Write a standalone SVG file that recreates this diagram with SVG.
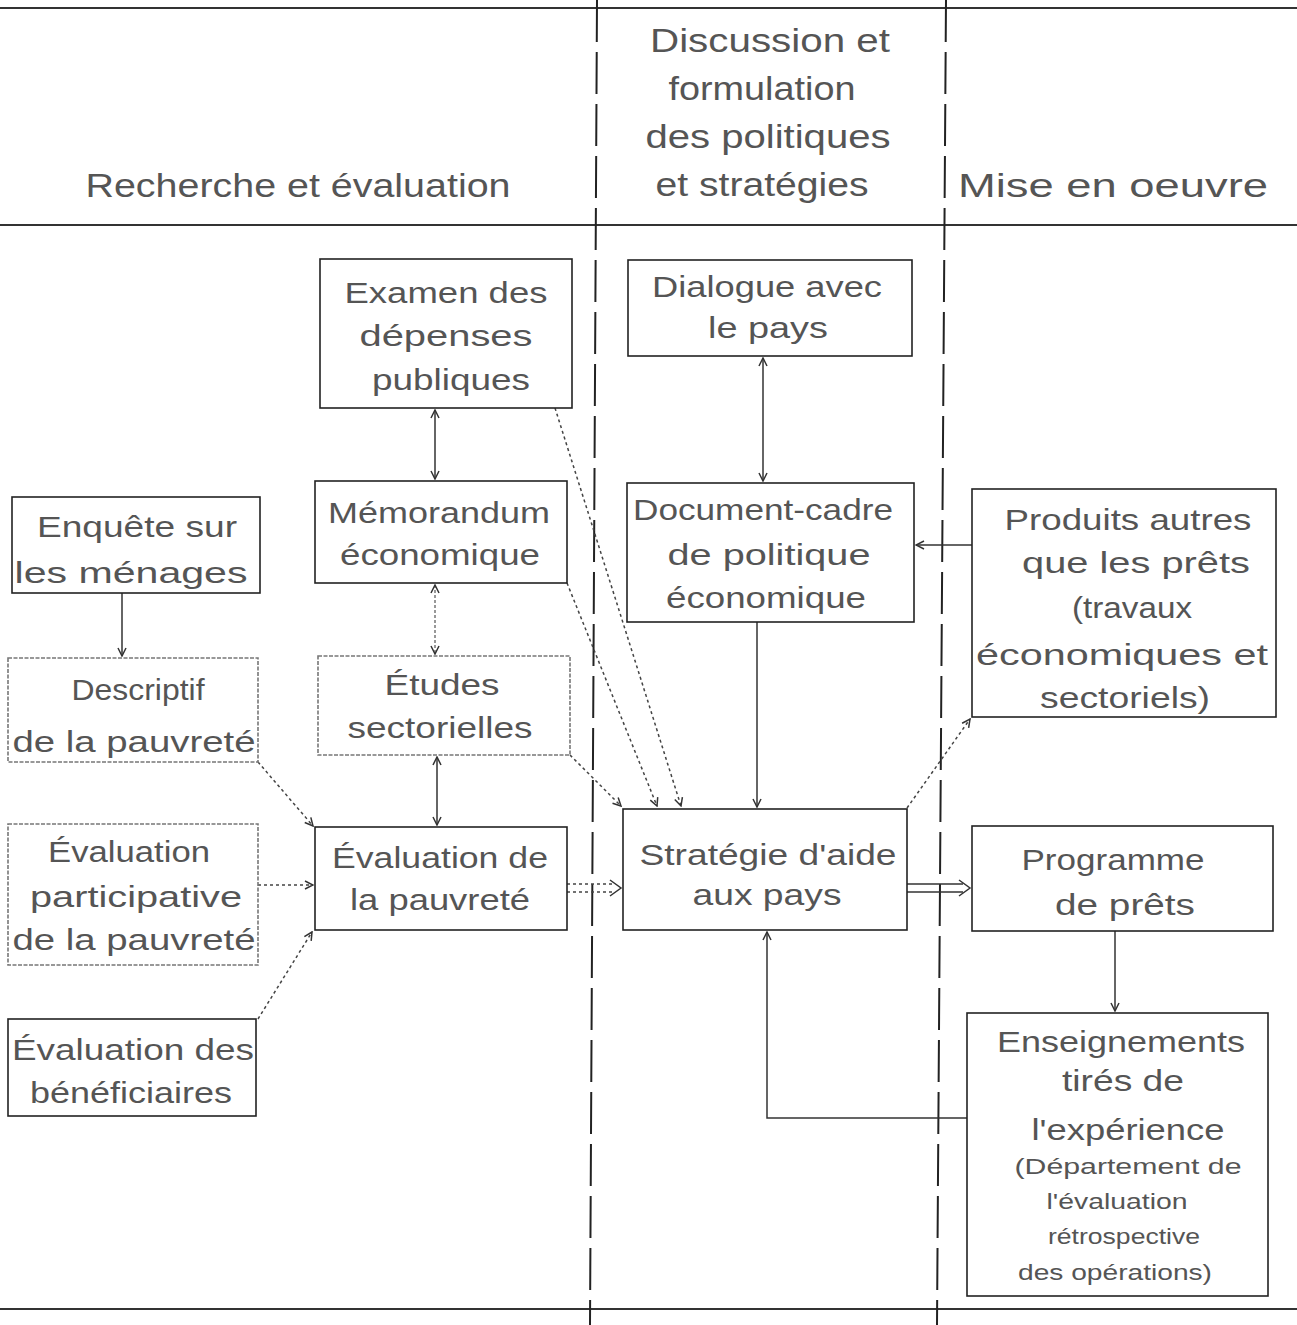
<svg xmlns="http://www.w3.org/2000/svg" width="1297" height="1325" viewBox="0 0 1297 1325">
<style>
.bg{fill:#ffffff}
.frame{stroke:#333;stroke-width:2;fill:none}
.col{stroke:#222;stroke-width:2;fill:none;stroke-dasharray:42 10}
.box{fill:#fff;stroke:#222;stroke-width:1.6}
.lbox{fill:#fff;stroke:#777;stroke-width:1.6;stroke-dasharray:4 1.5}
.t{font-family:"Liberation Sans",Arial,sans-serif;font-size:30px;fill:#555;text-anchor:middle}
.h{font-family:"Liberation Sans",Arial,sans-serif;font-size:34px;fill:#555;text-anchor:middle}
.s{font-family:"Liberation Sans",Arial,sans-serif;font-size:22px;fill:#555;text-anchor:middle}
.c{stroke:#333;stroke-width:1.5;fill:none}
.d{stroke:#444;stroke-width:1.5;fill:none;stroke-dasharray:3 3}
.g{stroke:#777;stroke-width:1.5;fill:none;stroke-dasharray:3 2}
</style>
<defs>
<marker id="ah" viewBox="0 0 10 10" refX="9" refY="5" markerWidth="10" markerHeight="10" markerUnits="userSpaceOnUse" orient="auto-start-reverse">
<path d="M1,1 L9,5 L1,9" fill="none" stroke="#333" stroke-width="1.5"/>
</marker>
</defs>
<rect class="bg" x="0" y="0" width="1297" height="1325"/>

<g id="frame">
<line class="frame" x1="0" y1="8" x2="1297" y2="8"/>
<line class="frame" x1="0" y1="225" x2="1297" y2="225"/>
<line class="frame" x1="0" y1="1309" x2="1297" y2="1309" stroke-width="3"/>
<line class="col" x1="597" y1="0" x2="590" y2="1325"/>
<line class="col" x1="946" y1="0" x2="937" y2="1325"/>
</g>

<g id="headers">
<text class="h" x="298" y="197" textLength="425" lengthAdjust="spacingAndGlyphs">Recherche et évaluation</text>
<text class="h" x="770" y="52" textLength="240" lengthAdjust="spacingAndGlyphs">Discussion et</text>
<text class="h" x="762" y="100" textLength="187" lengthAdjust="spacingAndGlyphs">formulation</text>
<text class="h" x="768" y="148" textLength="245" lengthAdjust="spacingAndGlyphs">des politiques</text>
<text class="h" x="762" y="196" textLength="213" lengthAdjust="spacingAndGlyphs">et stratégies</text>
<text class="h" x="1113" y="197" textLength="310" lengthAdjust="spacingAndGlyphs">Mise en oeuvre</text>
</g>

<g id="connectors">
<path class="c" d="M122,593 V656" marker-end="url(#ah)"/>
<path class="d" d="M258,762 L313,826" marker-end="url(#ah)"/>
<path class="d" d="M258,885 H313" marker-end="url(#ah)"/>
<path class="d" d="M258,1019 L312,932" marker-end="url(#ah)"/>
<path class="c" d="M435,410 V479" marker-start="url(#ah)" marker-end="url(#ah)"/>
<path class="g" d="M435,585 V654" marker-start="url(#ah)" marker-end="url(#ah)"/>
<path class="c" d="M437,757 V825" marker-start="url(#ah)" marker-end="url(#ah)"/>
<path class="d" d="M567,884 H614 M567,892 H614"/>
<path class="c" d="M610,880 L621,888 L610,896"/>
<path class="d" d="M570,755 L621,806" marker-end="url(#ah)"/>
<path class="d" d="M567,583 L657,806" marker-end="url(#ah)"/>
<path class="d" d="M555,408 L681,806" marker-end="url(#ah)"/>
<path class="c" d="M763,358 V481" marker-start="url(#ah)" marker-end="url(#ah)"/>
<path class="c" d="M757,622 V807" marker-end="url(#ah)"/>
<path class="c" d="M972,545 H916" marker-end="url(#ah)"/>
<path class="d" d="M907,808 L970,719" marker-end="url(#ah)"/>
<path class="c" d="M907,884 H963 M907,892 H963"/>
<path class="c" d="M959,880 L970,888 L959,896"/>
<path class="c" d="M1115,931 V1011" marker-end="url(#ah)"/>
<path class="c" d="M967,1118 H767 V932" marker-end="url(#ah)"/>
</g>

<g id="n-examen">
<rect class="box" x="320" y="259" width="252" height="149"/>
<text class="t" x="446" y="303" textLength="203" lengthAdjust="spacingAndGlyphs">Examen des</text>
<text class="t" x="446" y="346" textLength="173" lengthAdjust="spacingAndGlyphs">dépenses</text>
<text class="t" x="451" y="390" textLength="158" lengthAdjust="spacingAndGlyphs">publiques</text>
</g>

<g id="n-dialogue">
<rect class="box" x="628" y="260" width="284" height="96"/>
<text class="t" x="767" y="297" textLength="230" lengthAdjust="spacingAndGlyphs">Dialogue avec</text>
<text class="t" x="768" y="338" textLength="120" lengthAdjust="spacingAndGlyphs">le pays</text>
</g>

<g id="n-memorandum">
<rect class="box" x="315" y="481" width="252" height="102"/>
<text class="t" x="439" y="523" textLength="222" lengthAdjust="spacingAndGlyphs">Mémorandum</text>
<text class="t" x="440" y="565" textLength="200" lengthAdjust="spacingAndGlyphs">économique</text>
</g>

<g id="n-document">
<rect class="box" x="627" y="483" width="287" height="139"/>
<text class="t" x="763" y="520" textLength="260" lengthAdjust="spacingAndGlyphs">Document-cadre</text>
<text class="t" x="769" y="565" textLength="203" lengthAdjust="spacingAndGlyphs">de politique</text>
<text class="t" x="766" y="608" textLength="200" lengthAdjust="spacingAndGlyphs">économique</text>
</g>

<g id="n-enquete">
<rect class="box" x="12" y="497" width="248" height="96"/>
<text class="t" x="137" y="537" textLength="200" lengthAdjust="spacingAndGlyphs">Enquête sur</text>
<text class="t" x="131" y="583" textLength="233" lengthAdjust="spacingAndGlyphs">les ménages</text>
</g>

<g id="n-produits">
<rect class="box" x="972" y="489" width="304" height="228"/>
<text class="t" x="1128" y="530" textLength="247" lengthAdjust="spacingAndGlyphs">Produits autres</text>
<text class="t" x="1136" y="573" textLength="228" lengthAdjust="spacingAndGlyphs">que les prêts</text>
<text class="t" x="1132" y="618" textLength="120" lengthAdjust="spacingAndGlyphs">(travaux</text>
<text class="t" x="1122" y="665" textLength="292" lengthAdjust="spacingAndGlyphs">économiques et</text>
<text class="t" x="1125" y="708" textLength="170" lengthAdjust="spacingAndGlyphs">sectoriels)</text>
</g>

<g id="n-descriptif">
<rect class="lbox" x="8" y="658" width="250" height="104"/>
<text class="t" x="138" y="700" textLength="133" lengthAdjust="spacingAndGlyphs">Descriptif</text>
<text class="t" x="134" y="752" textLength="243" lengthAdjust="spacingAndGlyphs">de la pauvreté</text>
</g>

<g id="n-etudes">
<rect class="lbox" x="318" y="656" width="252" height="99"/>
<text class="t" x="442" y="695" textLength="115" lengthAdjust="spacingAndGlyphs">Études</text>
<text class="t" x="440" y="738" textLength="185" lengthAdjust="spacingAndGlyphs">sectorielles</text>
</g>

<g id="n-participative">
<rect class="lbox" x="8" y="824" width="250" height="141"/>
<text class="t" x="129" y="862" textLength="162" lengthAdjust="spacingAndGlyphs">Évaluation</text>
<text class="t" x="136" y="907" textLength="212" lengthAdjust="spacingAndGlyphs">participative</text>
<text class="t" x="134" y="950" textLength="243" lengthAdjust="spacingAndGlyphs">de la pauvreté</text>
</g>

<g id="n-evalpauvrete">
<rect class="box" x="315" y="827" width="252" height="103"/>
<text class="t" x="440" y="868" textLength="216" lengthAdjust="spacingAndGlyphs">Évaluation de</text>
<text class="t" x="440" y="910" textLength="180" lengthAdjust="spacingAndGlyphs">la pauvreté</text>
</g>

<g id="n-strategie">
<rect class="box" x="623" y="809" width="284" height="121"/>
<text class="t" x="768" y="865" textLength="257" lengthAdjust="spacingAndGlyphs">Stratégie d'aide</text>
<text class="t" x="767" y="905" textLength="149" lengthAdjust="spacingAndGlyphs">aux pays</text>
</g>

<g id="n-programme">
<rect class="box" x="972" y="826" width="301" height="105"/>
<text class="t" x="1113" y="870" textLength="183" lengthAdjust="spacingAndGlyphs">Programme</text>
<text class="t" x="1125" y="915" textLength="140" lengthAdjust="spacingAndGlyphs">de prêts</text>
</g>

<g id="n-beneficiaires">
<rect class="box" x="8" y="1019" width="248" height="97"/>
<text class="t" x="133" y="1060" textLength="242" lengthAdjust="spacingAndGlyphs">Évaluation des</text>
<text class="t" x="131" y="1103" textLength="202" lengthAdjust="spacingAndGlyphs">bénéficiaires</text>
</g>

<g id="n-enseignements">
<rect class="box" x="967" y="1013" width="301" height="283"/>
<text class="t" x="1121" y="1052" textLength="248" lengthAdjust="spacingAndGlyphs">Enseignements</text>
<text class="t" x="1123" y="1091" textLength="122" lengthAdjust="spacingAndGlyphs">tirés de</text>
<text class="t" x="1128" y="1140" textLength="193" lengthAdjust="spacingAndGlyphs">l'expérience</text>
<text class="s" x="1128" y="1174" textLength="227" lengthAdjust="spacingAndGlyphs">(Département de</text>
<text class="s" x="1117" y="1209" textLength="141" lengthAdjust="spacingAndGlyphs">l'évaluation</text>
<text class="s" x="1124" y="1244" textLength="152" lengthAdjust="spacingAndGlyphs">rétrospective</text>
<text class="s" x="1115" y="1280" textLength="194" lengthAdjust="spacingAndGlyphs">des opérations)</text>
</g>
</svg>
